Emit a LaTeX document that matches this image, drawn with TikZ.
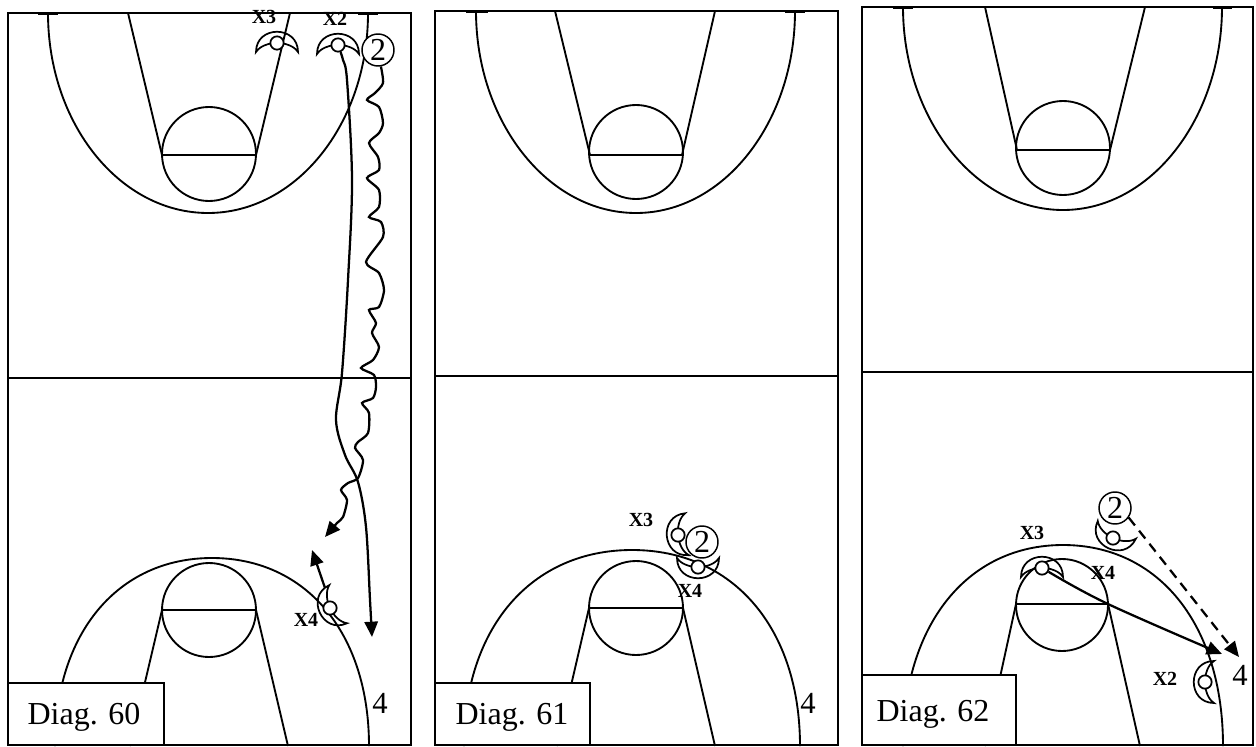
\documentclass[tikz,border=0pt]{standalone}
\usepackage{fontspec}
\setmainfont{Liberation Serif}
\usetikzlibrary{arrows.meta}
\tikzset{
  court/.style={line width=1.4pt},
  basemark/.style={line width=1.9pt},
  move/.style={line width=1.7pt, -{Triangle[length=11.5pt,width=10pt]}},
  passline/.style={line width=1.7pt, dash pattern=on 7.5pt off 5pt, -{Triangle[length=11.5pt,width=10pt]}},
  crescent/.style={draw, line width=1.3pt},
  dcirc/.style={circle, draw, fill=white, line width=1.3pt, minimum size=10pt, inner sep=0pt},
  offense/.style={circle, draw, fill=white, line width=1.1pt, minimum size=24pt, inner sep=0pt, font=\fontsize{24}{24}\selectfont},
  xlab/.style={font=\fontsize{15}{15}\selectfont\bfseries, inner sep=0pt},
  numlab/.style={font=\fontsize{23}{23}\selectfont, inner sep=0pt, anchor=base},
  diagbox/.style={draw, line width=1.4pt, fill=white},
  diaglab/.style={font=\fontsize{24}{24}\selectfont, anchor=base, inner sep=0pt},
  defender/.pic={
    \path[crescent] (-21,9) .. controls (-21,-18) and (21,-18) .. (21,9)
       .. controls (13,-3) and (-13,-3) .. (-21,9) -- cycle;
    \node[dcirc] (-c) at (0,0) {};
  },
}
\begin{document}
\begin{tikzpicture}[x=0.75pt, y=-0.75pt]
\useasboundingbox (0,0) rectangle (1256,746);
\fill[white] (0,0) rectangle (1256,746);

% ================= Panel 1 (Diag. 60) =================
\draw[court] (8,13) rectangle (411,745);
\draw[court] (8,378) -- (411,378);
\draw[court] (48,13) .. controls (48,124) and (120,213) .. (208,213) .. controls (296,213) and (368,124) .. (368,13);
\draw[court] (128,13) -- (162,155) -- (256,155) -- (290,13);
\draw[court] (209,154) circle[radius=35.25pt];
\draw[basemark] (38,13.5) -- (58,13.5) (358,13.5) -- (378,13.5);
\draw[court] (55,746) .. controls (55,633) and (118,558) .. (212,558) .. controls (306,558) and (369,633) .. (369,746);
\draw[court] (130,746) -- (162,610) -- (256,610) -- (288,746);
\draw[court] (209,610) circle[radius=35.25pt];
\path[diagbox] (8,683) rectangle (164,745);
\node[diaglab] (lab60) at (84,724) {Diag. 60};
\node[numlab] (four1) at (380,713) {4};

\pic (d1xthree) at (277,43) {defender};
\pic (d1xtwo) at (338,45) {defender};
\pic[rotate=115] (d1xfour) at (330,608) {defender};
\node[offense] (o1) at (378,50) {2};
\node[xlab] (l1x3) at (264,17) {X3};
\node[xlab] (l1x2) at (335,19) {X2};
\node[xlab] (l1x4) at (306,620) {X4};

\coordinate (t1a) at (372,637);
\coordinate (t1b) at (325,537);
\coordinate (s1c) at (325,588);
\coordinate (t1c) at (312,550);
\draw[move] plot[smooth, tension=0.55] coordinates {(d1xtwo-c.-70) (343,60) (347,80) (352,180) (348,280) (342,373) (336,420) (345,455) (358,482) (366,527) (370,600) (t1a)};
\draw[move] plot[smooth, tension=0.45] coordinates {(o1.-80) (383,83) (375,93) (367,100) (379,107) (383,123) (379,133) (369,143) (378,157) (379,170) (367,178) (379,190) (379,207) (369,217) (381,222) (383,237) (366,262) (379,273) (384,290) (379,307) (369,310) (376,323) (372,333) (379,347) (373,360) (361,368) (374,375) (376,387) (373,398) (362,403) (369,413) (368,433) (358,442) (355,448) (363,460) (358,478) (348,483) (341,490) (347,500) (343,517) (337,523) (t1b)};
\draw[move] (s1c) -- (t1c);

% ================= Panel 2 (Diag. 61) =================
\draw[court] (435,11) rectangle (838,745);
\draw[court] (435,376) -- (838,376);
\draw[court] (476,11) .. controls (476,122) and (548,213) .. (636,213) .. controls (724,213) and (795,122) .. (795,11);
\draw[court] (555,11) -- (590,155) -- (682,155) -- (715,11);
\draw[court] (636,152) circle[radius=35.25pt];
\draw[basemark] (466,11.5) -- (488,11.5) (785,11.5) -- (805,11.5);
\draw[court] (464,746) .. controls (464,628) and (531,550) .. (632,550) .. controls (733,550) and (800,628) .. (800,746);
\draw[court] (557,746) -- (589,608) -- (683,608) -- (715,746);
\draw[court] (636,608) circle[radius=35.25pt];
\path[diagbox] (435,683) rectangle (590,745);
\node[diaglab] (lab61) at (512,724) {Diag. 61};
\node[numlab] (four2) at (808,713) {4};

\node[offense] (o2) at (702,542) {2};
\pic[rotate=95] (d2xthree) at (678,535) {defender};
\pic[rotate=180] (d2xfour) at (698,567) {defender};
\node[xlab] (l2x3) at (641,520) {X3};
\node[xlab] (l2x4) at (690,591) {X4};

% ================= Panel 3 (Diag. 62) =================
\draw[court] (862,7) rectangle (1253,745);
\draw[court] (862,372) -- (1253,372);
\draw[court] (903,7) .. controls (903,118) and (975,210) .. (1063,210) .. controls (1151,210) and (1222,118) .. (1222,7);
\draw[court] (985,7) -- (1017,150) -- (1110,150) -- (1145,7);
\draw[court] (1063,148) circle[radius=35.25pt];
\draw[basemark] (893,7.5) -- (913,7.5) (1213,7.5) -- (1232,7.5);
\draw[court] (903,746) .. controls (903,625) and (967,545) .. (1063,545) .. controls (1159,545) and (1223,625) .. (1223,746);
\draw[court] (985,746) -- (1016,604) -- (1108,604) -- (1140,746);
\draw[court] (1062,605) circle[radius=34.5pt];
\path[diagbox] (862,675) rectangle (1016,745);
\node[diaglab] (lab62) at (933,721) {Diag. 62};
\node[numlab] (four3) at (1240,685) {4};

\node[offense] (o3) at (1115,508) {2};
\pic[rotate=155] (d3xfour) at (1113,538) {defender};
\pic (d3xthree) at (1042,568) {defender};
\pic[rotate=90] (d3xtwo) at (1205,682) {defender};
\node[xlab] (l3x3) at (1032,533) {X3};
\node[xlab] (l3x4) at (1103,573) {X4};
\node[xlab] (l3x2) at (1165,679) {X2};

\coordinate (t3a) at (1222,654);
\coordinate (t3b) at (1239,657);
\draw[move] plot[smooth, tension=0.6] coordinates {(d3xthree-c.-30) (1108,604) (t3a)};
\draw[passline] (o3.-35) -- (t3b);
\end{tikzpicture}
\end{document}
